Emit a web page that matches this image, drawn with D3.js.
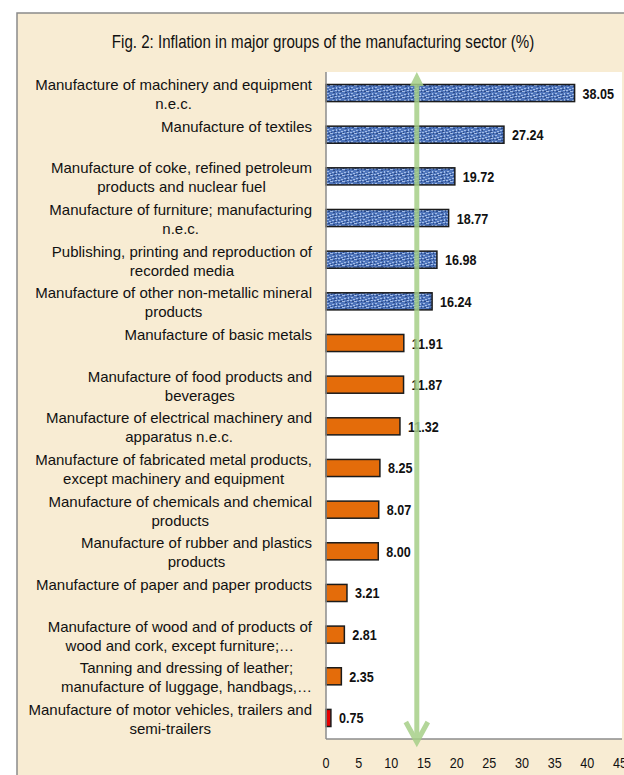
<!DOCTYPE html>
<html>
<head>
<meta charset="utf-8">
<script src="https://cdn.jsdelivr.net/npm/d3@7"></script>
<style>
    body { margin: 0; background: #fff; }
    #chart { width: 624px; height: 775px; }
    text { font-family: "Liberation Sans", Arial, sans-serif; fill: #111; }
    .cat-label { font-size: 15px; }
    .val-label { font-size: 15px; font-weight: bold; }
    .tick-label { font-size: 15px; }
    .title { font-size: 18px; }
</style>
</head>
<body>
<div id="chart"></div>
<script>
// Category labels, line breaks as in the picture
const categories = [
    ["Manufacture of machinery and equipment", "n.e.c."],
    ["Manufacture of textiles"],
    ["Manufacture of coke, refined petroleum", "products and nuclear fuel"],
    ["Manufacture of furniture; manufacturing", "n.e.c."],
    ["Publishing, printing and reproduction of", "recorded media"],
    ["Manufacture of other non-metallic mineral", "products"],
    ["Manufacture of basic metals"],
    ["Manufacture of food products and", "beverages"],
    ["Manufacture of electrical machinery and", "apparatus n.e.c."],
    ["Manufacture of fabricated metal products,", "except machinery and equipment"],
    ["Manufacture of chemicals and chemical", "products"],
    ["Manufacture of rubber and plastics", "products"],
    ["Manufacture of paper and paper products"],
    ["Manufacture of wood and of products of", "wood and cork, except furniture;…"],
    ["Tanning and dressing of leather;", "manufacture of luggage, handbags,…"],
    ["Manufacture of motor vehicles, trailers and", "semi-trailers"]
];
const values = [38.05, 27.24, 19.72, 18.77, 16.98, 16.24, 11.91, 11.87, 11.32, 8.25, 8.07, 8.00, 3.21, 2.81, 2.35, 0.75];
const groups = ["high", "high", "high", "high", "high", "high",
    "mid", "mid", "mid", "mid", "mid", "mid", "mid", "mid", "mid", "low"];
const xTicks = [0, 5, 10, 15, 20, 25, 30, 35, 40, 45];
const xMax = 45;
const markerValue = 13.9;   // green arrow
const titleText = "Fig. 2: Inflation in major groups of the manufacturing sector (%)";

class HBarChart {
    constructor(parentElement) {
        this.parentElement = parentElement;
        this.initVis();
    }

    initVis() {
        let vis = this;

        vis.margin = {top: 72, right: 2, bottom: 36, left: 326};
        vis.width = 624 - vis.margin.left - vis.margin.right;
        vis.height = 775 - vis.margin.top - vis.margin.bottom;
        vis.narrow = 0.84;   // the original uses a condensed face

        vis.root = d3.select("#" + vis.parentElement).append("svg")
            .attr("width", 624)
            .attr("height", 775);

        // Texture for the blue bars
        let defs = vis.root.append("defs");
        let pat = defs.append("pattern")
            .attr("id", "blueTex")
            .attr("patternUnits", "userSpaceOnUse")
            .attr("width", 12).attr("height", 6);
        pat.append("rect").attr("width", 12).attr("height", 6).attr("fill", "#4f75bb");
        [[0, 0, 2, 1], [4, 1, 3, 1], [9, 0, 2, 1], [1, 3, 2, 1], [6, 4, 2, 1], [10, 3, 1, 2], [3, 5, 2, 1]]
            .forEach(r => pat.append("rect").attr("x", r[0]).attr("y", r[1]).attr("width", r[2]).attr("height", r[3]).attr("fill", "#a3bce6"));
        [[2, 1, 2, 1], [7, 2, 2, 1], [0, 4, 1, 1], [5, 0, 1, 1], [8, 5, 2, 1], [11, 1, 1, 1]]
            .forEach(r => pat.append("rect").attr("x", r[0]).attr("y", r[1]).attr("width", r[2]).attr("height", r[3]).attr("fill", "#2c4a86"));

        // Parchment frame
        vis.root.append("rect")
            .attr("x", 17).attr("y", 13)
            .attr("width", 640).attr("height", 800)
            .attr("fill", "#f8ecd3")
            .attr("stroke", "#8a8a8a")
            .attr("stroke-width", 1.5);

        vis.root.append("text")
            .attr("class", "title")
            .attr("transform", `translate(323, 48) scale(${vis.narrow}, 1)`)
            .attr("text-anchor", "middle")
            .text(titleText);

        vis.svg = vis.root.append("g")
            .attr("transform", `translate(${vis.margin.left}, ${vis.margin.top})`);

        vis.svg.append("rect")
            .attr("width", vis.width).attr("height", vis.height)
            .attr("fill", "#fff");

        vis.x = d3.scaleLinear().domain([0, xMax]).range([0, vis.width - 2]);
        vis.y = d3.scaleBand().range([0, vis.height]).paddingInner(0.59).paddingOuter(0.3);

        vis.color = {high: "url(#blueTex)", mid: "#e46c0a", low: "#e60000"};

        vis.wrangleData();
    }

    wrangleData() {
        let vis = this;
        vis.displayData = values.map((v, i) => ({lines: categories[i], value: v, group: groups[i], id: i}));
        vis.updateVis();
    }

    updateVis() {
        let vis = this;

        vis.y.domain(vis.displayData.map(d => d.id));
        let bw = vis.y.bandwidth();

        vis.svg.selectAll(".bar")
            .data(vis.displayData)
            .enter().append("rect")
            .attr("class", "bar")
            .attr("x", 0)
            .attr("y", d => vis.y(d.id))
            .attr("width", d => vis.x(d.value))
            .attr("height", bw)
            .attr("fill", d => vis.color[d.group])
            .attr("stroke", "#1b1b1b")
            .attr("stroke-width", 1.5);

        vis.svg.selectAll(".val-label")
            .data(vis.displayData)
            .enter().append("text")
            .attr("class", "val-label")
            .attr("transform", d => `translate(${vis.x(d.value) + 8}, ${vis.y(d.id) + bw / 2 + 5.5}) scale(${vis.narrow}, 1)`)
            .text(d => d.value.toFixed(2));

        // Axis lines
        vis.svg.append("line")
            .attr("x1", 0).attr("x2", 0).attr("y1", 0).attr("y2", vis.height)
            .attr("stroke", "#8c8c8c").attr("stroke-width", 1.5);
        vis.svg.append("line")
            .attr("x1", 0).attr("x2", vis.width).attr("y1", vis.height).attr("y2", vis.height)
            .attr("stroke", "#8c8c8c").attr("stroke-width", 1.5);

        // X tick labels
        vis.svg.selectAll(".tick-label")
            .data(xTicks)
            .enter().append("text")
            .attr("class", "tick-label")
            .attr("transform", d => `translate(${vis.x(d)}, ${vis.height + 29}) scale(${vis.narrow}, 1)`)
            .attr("text-anchor", "middle")
            .text(d => d);

        // Category labels: block right-aligned, lines centred on each other
        let labelRight = -14;
        vis.displayData.forEach(d => {
            let g = vis.svg.append("g");
            let cy = vis.y(d.id) + bw / 2;
            let texts = d.lines.map((line, j) => g.append("text")
                .attr("class", "cat-label")
                .attr("y", cy - 3 + j * 19)
                .attr("text-anchor", "middle")
                .text(line));
            let maxW = d3.max(texts, t => t.node().getComputedTextLength());
            texts.forEach(t => t.attr("x", labelRight - maxW / 2));
        });

        // Green marker arrow
        let ax = vis.x(markerValue);
        let arrow = vis.svg.append("g").attr("opacity", 0.85);
        arrow.append("line")
            .attr("x1", ax).attr("x2", ax)
            .attr("y1", 10).attr("y2", vis.height + 2)
            .attr("stroke", "#a6cf88").attr("stroke-width", 5);
        arrow.append("path")
            .attr("d", `M${ax},0 L${ax - 7},14 L${ax + 7},14 Z`)
            .attr("fill", "#a6cf88");
        arrow.append("path")
            .attr("d", `M${ax - 11},${vis.height - 17} L${ax},${vis.height + 3} L${ax + 11},${vis.height - 17}`)
            .attr("fill", "none")
            .attr("stroke", "#a6cf88")
            .attr("stroke-width", 5);
    }
}

new HBarChart("chart");
</script>
</body>
</html>
